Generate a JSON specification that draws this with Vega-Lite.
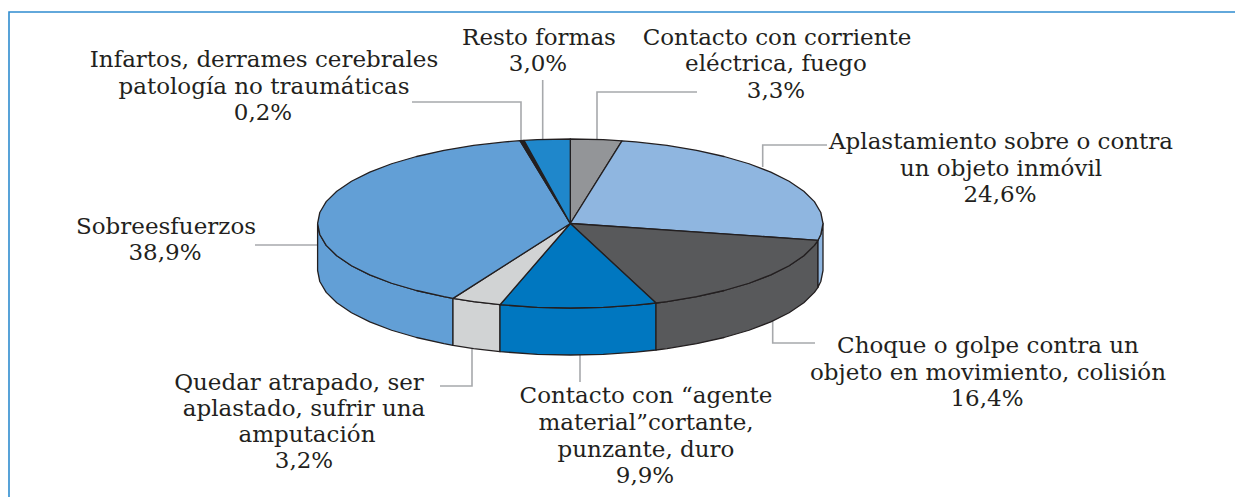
{
"$schema":"https://vega.github.io/schema/vega-lite/v6.json",
"width":1235,"height":497,"autosize":"none","padding":0,"background":"#ffffff",
"config":{"view":{"stroke":null}},
"layer":[
{"data":{"values":[
{"g":"frame","k":"frame","s":1,"x":9,"y":497},{"g":"frame","k":"frame","s":2,"x":9,"y":12},{"g":"frame","k":"frame","s":3,"x":1235,"y":12},
{"g":"l1","k":"leader","s":1,"x":412,"y":102},{"g":"l1","k":"leader","s":2,"x":521,"y":102},{"g":"l1","k":"leader","s":3,"x":521,"y":140},
{"g":"l2","k":"leader","s":1,"x":542.7,"y":80},{"g":"l2","k":"leader","s":2,"x":542.7,"y":139},
{"g":"l3","k":"leader","s":1,"x":597,"y":139},{"g":"l3","k":"leader","s":2,"x":597,"y":92},{"g":"l3","k":"leader","s":3,"x":697,"y":92},
{"g":"l4","k":"leader","s":1,"x":762.7,"y":167},{"g":"l4","k":"leader","s":2,"x":762.7,"y":145},{"g":"l4","k":"leader","s":3,"x":827,"y":145},
{"g":"l5","k":"leader","s":1,"x":772.7,"y":320},{"g":"l5","k":"leader","s":2,"x":772.7,"y":343},{"g":"l5","k":"leader","s":3,"x":815,"y":343},
{"g":"l6","k":"leader","s":1,"x":580,"y":355},{"g":"l6","k":"leader","s":2,"x":580,"y":382},
{"g":"l7","k":"leader","s":1,"x":472,"y":349},{"g":"l7","k":"leader","s":2,"x":472,"y":386},{"g":"l7","k":"leader","s":3,"x":440,"y":386},
{"g":"l8","k":"leader","s":1,"x":255,"y":245},{"g":"l8","k":"leader","s":2,"x":317,"y":245}
]},
"mark":{"type":"line","strokeWidth":1.6,"interpolate":"linear"},
"encoding":{
"x":{"field":"x","type":"quantitative","scale":{"domain":[0,1235],"nice":false,"zero":false},"axis":null},
"y":{"field":"y","type":"quantitative","scale":{"domain":[497,0],"nice":false,"zero":false},"axis":null},
"detail":{"field":"g"},"order":{"field":"s","type":"quantitative"},
"color":{"field":"k","type":"nominal","legend":null,"scale":{"domain":["frame","leader"],"range":["#2f8ccf","#a7a9ac"]}}
}},
{"data":{"values":[
{"g":"s1","c":"Sobreesfuerzos","s":1,"x":317.6,"y":223.5},{"g":"s1","c":"Sobreesfuerzos","s":2,"x":319.8,"y":234.5},{"g":"s1","c":"Sobreesfuerzos","s":3,"x":326.2,"y":245.4},{"g":"s1","c":"Sobreesfuerzos","s":4,"x":336.8,"y":255.8},{"g":"s1","c":"Sobreesfuerzos","s":5,"x":351.5,"y":265.75},{"g":"s1","c":"Sobreesfuerzos","s":6,"x":369.8,"y":274.9},{"g":"s1","c":"Sobreesfuerzos","s":7,"x":391.6,"y":283.25},{"g":"s1","c":"Sobreesfuerzos","s":8,"x":416.5,"y":290.5},{"g":"s1","c":"Sobreesfuerzos","s":9,"x":444,"y":296.7},{"g":"s1","c":"Sobreesfuerzos","s":10,"x":453,"y":298.4},
{"g":"s1","c":"Sobreesfuerzos","s":11,"x":453,"y":345.4},{"g":"s1","c":"Sobreesfuerzos","s":12,"x":444,"y":343.7},{"g":"s1","c":"Sobreesfuerzos","s":13,"x":416.5,"y":337.5},{"g":"s1","c":"Sobreesfuerzos","s":14,"x":391.6,"y":330.25},{"g":"s1","c":"Sobreesfuerzos","s":15,"x":369.8,"y":321.9},{"g":"s1","c":"Sobreesfuerzos","s":16,"x":351.5,"y":312.75},{"g":"s1","c":"Sobreesfuerzos","s":17,"x":336.8,"y":302.8},{"g":"s1","c":"Sobreesfuerzos","s":18,"x":326.2,"y":292.4},{"g":"s1","c":"Sobreesfuerzos","s":19,"x":319.8,"y":281.5},{"g":"s1","c":"Sobreesfuerzos","s":20,"x":317.6,"y":270.5},{"g":"s1","c":"Sobreesfuerzos","s":21,"x":317.6,"y":223.5},
{"g":"s2","c":"Quedar","s":1,"x":453,"y":298.4},{"g":"s2","c":"Quedar","s":2,"x":473.6,"y":301.6},{"g":"s2","c":"Quedar","s":3,"x":500,"y":304.7},{"g":"s2","c":"Quedar","s":4,"x":500,"y":351.7},{"g":"s2","c":"Quedar","s":5,"x":473.6,"y":348.6},{"g":"s2","c":"Quedar","s":6,"x":453,"y":345.4},{"g":"s2","c":"Quedar","s":7,"x":453,"y":298.4},
{"g":"s3","c":"Agente","s":1,"x":500,"y":304.7},{"g":"s3","c":"Agente","s":2,"x":537.3,"y":307.3},{"g":"s3","c":"Agente","s":3,"x":570.3,"y":308},{"g":"s3","c":"Agente","s":4,"x":603.3,"y":307.3},{"g":"s3","c":"Agente","s":5,"x":635.7,"y":305.1},{"g":"s3","c":"Agente","s":6,"x":656,"y":303},{"g":"s3","c":"Agente","s":7,"x":656,"y":350},{"g":"s3","c":"Agente","s":8,"x":635.7,"y":352.1},{"g":"s3","c":"Agente","s":9,"x":603.3,"y":354.3},{"g":"s3","c":"Agente","s":10,"x":570.3,"y":355},{"g":"s3","c":"Agente","s":11,"x":537.3,"y":354.3},{"g":"s3","c":"Agente","s":12,"x":500,"y":351.7},{"g":"s3","c":"Agente","s":13,"x":500,"y":304.7},
{"g":"s4","c":"Choque","s":1,"x":656,"y":303},{"g":"s4","c":"Choque","s":2,"x":667,"y":301.6},{"g":"s4","c":"Choque","s":3,"x":696.65,"y":296.7},{"g":"s4","c":"Choque","s":4,"x":724.1,"y":290.5},{"g":"s4","c":"Choque","s":5,"x":749,"y":283.25},{"g":"s4","c":"Choque","s":6,"x":770.8,"y":274.9},{"g":"s4","c":"Choque","s":7,"x":789.1,"y":265.75},{"g":"s4","c":"Choque","s":8,"x":803.8,"y":255.8},{"g":"s4","c":"Choque","s":9,"x":814.4,"y":245.4},{"g":"s4","c":"Choque","s":10,"x":818,"y":240.3},{"g":"s4","c":"Choque","s":11,"x":818,"y":287.3},{"g":"s4","c":"Choque","s":12,"x":814.4,"y":292.4},{"g":"s4","c":"Choque","s":13,"x":803.8,"y":302.8},{"g":"s4","c":"Choque","s":14,"x":789.1,"y":312.75},{"g":"s4","c":"Choque","s":15,"x":770.8,"y":321.9},{"g":"s4","c":"Choque","s":16,"x":749,"y":330.25},{"g":"s4","c":"Choque","s":17,"x":724.1,"y":337.5},{"g":"s4","c":"Choque","s":18,"x":696.65,"y":343.7},{"g":"s4","c":"Choque","s":19,"x":667,"y":348.6},{"g":"s4","c":"Choque","s":20,"x":656,"y":350},{"g":"s4","c":"Choque","s":21,"x":656,"y":303},
{"g":"s5","c":"Aplastamiento","s":1,"x":818,"y":240.3},{"g":"s5","c":"Aplastamiento","s":2,"x":820.8,"y":234.5},{"g":"s5","c":"Aplastamiento","s":3,"x":823,"y":223.5},{"g":"s5","c":"Aplastamiento","s":4,"x":823,"y":270.5},{"g":"s5","c":"Aplastamiento","s":5,"x":820.8,"y":281.5},{"g":"s5","c":"Aplastamiento","s":6,"x":818,"y":287.3},{"g":"s5","c":"Aplastamiento","s":7,"x":818,"y":240.3},
{"g":"t1","c":"Corriente","s":1,"x":570.3,"y":223.5},{"g":"t1","c":"Corriente","s":2,"x":570.3,"y":139},{"g":"t1","c":"Corriente","s":3,"x":603.3,"y":139.7},{"g":"t1","c":"Corriente","s":4,"x":622,"y":140.8},{"g":"t1","c":"Corriente","s":5,"x":570.3,"y":223.5},
{"g":"t2","c":"Aplastamiento","s":1,"x":570.3,"y":223.5},{"g":"t2","c":"Aplastamiento","s":2,"x":622,"y":140.8},{"g":"t2","c":"Aplastamiento","s":3,"x":635.7,"y":141.9},{"g":"t2","c":"Aplastamiento","s":4,"x":667,"y":145.4},{"g":"t2","c":"Aplastamiento","s":5,"x":696.65,"y":150.3},{"g":"t2","c":"Aplastamiento","s":6,"x":724.1,"y":156.5},{"g":"t2","c":"Aplastamiento","s":7,"x":749,"y":163.75},{"g":"t2","c":"Aplastamiento","s":8,"x":770.8,"y":172.1},{"g":"t2","c":"Aplastamiento","s":9,"x":789.1,"y":181.25},{"g":"t2","c":"Aplastamiento","s":10,"x":803.8,"y":191.2},{"g":"t2","c":"Aplastamiento","s":11,"x":814.4,"y":201.6},{"g":"t2","c":"Aplastamiento","s":12,"x":820.8,"y":212.5},{"g":"t2","c":"Aplastamiento","s":13,"x":823,"y":223.5},{"g":"t2","c":"Aplastamiento","s":14,"x":820.8,"y":234.5},{"g":"t2","c":"Aplastamiento","s":15,"x":818,"y":240.3},{"g":"t2","c":"Aplastamiento","s":16,"x":570.3,"y":223.5},
{"g":"t3","c":"Choque","s":1,"x":570.3,"y":223.5},{"g":"t3","c":"Choque","s":2,"x":818,"y":240.3},{"g":"t3","c":"Choque","s":3,"x":814.4,"y":245.4},{"g":"t3","c":"Choque","s":4,"x":803.8,"y":255.8},{"g":"t3","c":"Choque","s":5,"x":789.1,"y":265.75},{"g":"t3","c":"Choque","s":6,"x":770.8,"y":274.9},{"g":"t3","c":"Choque","s":7,"x":749,"y":283.25},{"g":"t3","c":"Choque","s":8,"x":724.1,"y":290.5},{"g":"t3","c":"Choque","s":9,"x":696.65,"y":296.7},{"g":"t3","c":"Choque","s":10,"x":667,"y":301.6},{"g":"t3","c":"Choque","s":11,"x":656,"y":303},{"g":"t3","c":"Choque","s":12,"x":570.3,"y":223.5},
{"g":"t4","c":"Agente","s":1,"x":570.3,"y":223.5},{"g":"t4","c":"Agente","s":2,"x":656,"y":303},{"g":"t4","c":"Agente","s":3,"x":635.7,"y":305.1},{"g":"t4","c":"Agente","s":4,"x":603.3,"y":307.3},{"g":"t4","c":"Agente","s":5,"x":570.3,"y":308},{"g":"t4","c":"Agente","s":6,"x":537.3,"y":307.3},{"g":"t4","c":"Agente","s":7,"x":500,"y":304.7},{"g":"t4","c":"Agente","s":8,"x":570.3,"y":223.5},
{"g":"t5","c":"Quedar","s":1,"x":570.3,"y":223.5},{"g":"t5","c":"Quedar","s":2,"x":500,"y":304.7},{"g":"t5","c":"Quedar","s":3,"x":473.6,"y":301.6},{"g":"t5","c":"Quedar","s":4,"x":453,"y":298.4},{"g":"t5","c":"Quedar","s":5,"x":570.3,"y":223.5},
{"g":"t6","c":"Sobreesfuerzos","s":1,"x":570.3,"y":223.5},{"g":"t6","c":"Sobreesfuerzos","s":2,"x":453,"y":298.4},{"g":"t6","c":"Sobreesfuerzos","s":3,"x":444,"y":296.7},{"g":"t6","c":"Sobreesfuerzos","s":4,"x":416.5,"y":290.5},{"g":"t6","c":"Sobreesfuerzos","s":5,"x":391.6,"y":283.25},{"g":"t6","c":"Sobreesfuerzos","s":6,"x":369.8,"y":274.9},{"g":"t6","c":"Sobreesfuerzos","s":7,"x":351.5,"y":265.75},{"g":"t6","c":"Sobreesfuerzos","s":8,"x":336.8,"y":255.8},{"g":"t6","c":"Sobreesfuerzos","s":9,"x":326.2,"y":245.4},{"g":"t6","c":"Sobreesfuerzos","s":10,"x":319.8,"y":234.5},{"g":"t6","c":"Sobreesfuerzos","s":11,"x":317.6,"y":223.5},{"g":"t6","c":"Sobreesfuerzos","s":12,"x":319.8,"y":212.5},{"g":"t6","c":"Sobreesfuerzos","s":13,"x":326.2,"y":201.6},{"g":"t6","c":"Sobreesfuerzos","s":14,"x":336.8,"y":191.2},{"g":"t6","c":"Sobreesfuerzos","s":15,"x":351.5,"y":181.25},{"g":"t6","c":"Sobreesfuerzos","s":16,"x":369.8,"y":172.1},{"g":"t6","c":"Sobreesfuerzos","s":17,"x":391.6,"y":163.75},{"g":"t6","c":"Sobreesfuerzos","s":18,"x":416.5,"y":156.5},{"g":"t6","c":"Sobreesfuerzos","s":19,"x":444,"y":150.3},{"g":"t6","c":"Sobreesfuerzos","s":20,"x":473.6,"y":145.4},{"g":"t6","c":"Sobreesfuerzos","s":21,"x":504.9,"y":141.9},{"g":"t6","c":"Sobreesfuerzos","s":22,"x":520,"y":140.7},{"g":"t6","c":"Sobreesfuerzos","s":23,"x":570.3,"y":223.5},
{"g":"t7","c":"Infartos","s":1,"x":570.3,"y":223.5},{"g":"t7","c":"Infartos","s":2,"x":520,"y":140.7},{"g":"t7","c":"Infartos","s":3,"x":524,"y":140.4},{"g":"t7","c":"Infartos","s":4,"x":570.3,"y":223.5},
{"g":"t8","c":"Resto","s":1,"x":570.3,"y":223.5},{"g":"t8","c":"Resto","s":2,"x":524,"y":140.4},{"g":"t8","c":"Resto","s":3,"x":537.3,"y":139.7},{"g":"t8","c":"Resto","s":4,"x":570.3,"y":139},{"g":"t8","c":"Resto","s":5,"x":570.3,"y":223.5}
]},
"mark":{"type":"line","filled":true,"stroke":"#231f20","strokeWidth":1.3,"strokeJoin":"round","interpolate":"linear"},
"encoding":{
"x":{"field":"x","type":"quantitative","scale":{"domain":[0,1235],"nice":false,"zero":false},"axis":null},
"y":{"field":"y","type":"quantitative","scale":{"domain":[497,0],"nice":false,"zero":false},"axis":null},
"detail":{"field":"g"},"order":{"field":"s","type":"quantitative"},
"fill":{"field":"c","type":"nominal","legend":null,"scale":{"domain":["Corriente","Aplastamiento","Choque","Agente","Quedar","Sobreesfuerzos","Infartos","Resto"],"range":["#939598","#8fb6e0","#58595b","#0077c0","#d1d3d4","#629fd6","#231f20","#1f87cb"]}}
}},
{"data":{"values":[
{"t":"Resto formas","x":539,"y":45},{"t":"3,0%","x":538,"y":71},
{"t":"Contacto con corriente","x":777,"y":45},{"t":"eléctrica, fuego","x":776,"y":71},{"t":"3,3%","x":776,"y":98},
{"t":"Infartos, derrames cerebrales","x":264,"y":67},{"t":"patología no traumáticas","x":264,"y":94},{"t":"0,2%","x":263,"y":120},
{"t":"Aplastamiento sobre o contra","x":1001,"y":149},{"t":"un objeto inmóvil","x":1001,"y":176},{"t":"24,6%","x":1000,"y":202},
{"t":"Sobreesfuerzos","x":166,"y":234},{"t":"38,9%","x":165,"y":260},
{"t":"Choque o golpe contra un","x":988,"y":353},{"t":"objeto en movimiento, colisión","x":988,"y":380},{"t":"16,4%","x":987,"y":406},
{"t":"Contacto con “agente","x":646,"y":403},{"t":"material”cortante,","x":646,"y":430},{"t":"punzante, duro","x":646,"y":457},{"t":"9,9%","x":645,"y":483},
{"t":"Quedar atrapado, ser","x":299,"y":390},{"t":"aplastado, sufrir una","x":304,"y":416},{"t":"amputación","x":307,"y":442},{"t":"3,2%","x":304,"y":468}
]},
"mark":{"type":"text","font":"DejaVu Serif","fontSize":23,"color":"#231f20","align":"center","baseline":"alphabetic"},
"encoding":{
"x":{"field":"x","type":"quantitative","scale":{"domain":[0,1235],"nice":false,"zero":false},"axis":null},
"y":{"field":"y","type":"quantitative","scale":{"domain":[497,0],"nice":false,"zero":false},"axis":null},
"text":{"field":"t","type":"nominal"}
}}
]
}
